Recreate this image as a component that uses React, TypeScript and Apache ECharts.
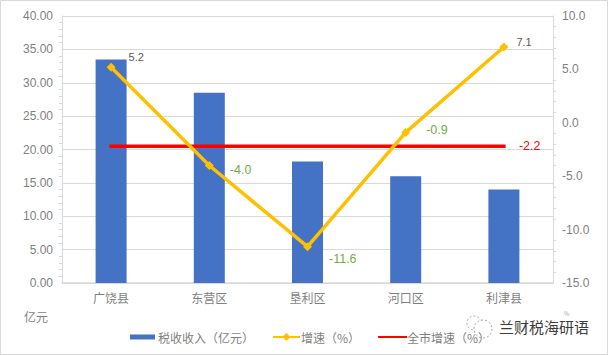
import React, { useEffect, useRef } from "react";
import * as echarts from "echarts";

const categories = ["广饶县", "东营区", "垦利区", "河口区", "利津县"];
const taxRevenue = [33.5, 28.5, 18.2, 16.0, 14.0];
const growth = [5.2, -4.0, -11.6, -0.9, 7.1];
const cityGrowth = [-2.2, -2.2, -2.2, -2.2, -2.2];
const growthLabelColors = ["#595959", "#70ad47", "#70ad47", "#70ad47", "#595959"];
const growthLabelSizes = [11, 12.5, 12.5, 12.5, 11];
const growthLabelOffsets = [
  [8, -10],
  [11, 4],
  [12, 12],
  [11, -2],
  [3, -5],
];

const FONT = "'Noto Sans CJK SC', sans-serif";
const LATIN = "'Liberation Sans', sans-serif";
const GREY = "#7f7f7f";
const LINE = "#d9d9d9";

export default function App() {
  const ref = useRef<HTMLDivElement>(null);
  useEffect(() => {
    document.body.style.margin = "0";
    const chart = echarts.init(ref.current!, undefined, { renderer: "svg" });
    chart.setOption({
      animation: false,
      textStyle: { fontFamily: FONT },
      grid: { left: 62, right: 55, top: 16, bottom: 72 },
      legend: {
        left: 130,
        top: 331,
        padding: 0,
        itemGap: 18,
        itemWidth: 27,
        itemHeight: 10,
        textStyle: { color: GREY, fontSize: 12, padding: [0, 0, 0, -4] },
        data: [
          { name: "税收收入（亿元）", icon: "path://M0 0L0 0M0 2.5H25V7.5H0ZM27 10L27 10" },
          { name: "增速（%）", textStyle: { width: 50, overflow: "none" } },
          { name: "全市增速（%）", itemStyle: { opacity: 0 } },
        ],
      },
      xAxis: {
        type: "category",
        data: categories,
        axisLine: { lineStyle: { color: LINE, width: 1.5 } },
        axisTick: { show: false },
        axisLabel: { color: GREY, fontSize: 12, margin: 8 },
      },
      yAxis: [
        {
          type: "value",
          min: 0,
          max: 40,
          interval: 5,
          axisLine: { show: true, lineStyle: { color: LINE } },
          axisTick: { show: false },
          minorTick: { show: true, splitNumber: 5, length: 3, lineStyle: { color: LINE } },
          axisLabel: {
            color: GREY,
            fontSize: 12,
            margin: 9,
            fontFamily: LATIN,
            formatter: (v: number) => v.toFixed(2),
          },
          splitLine: { show: true, lineStyle: { color: LINE, width: 1 } },
        },
        {
          type: "value",
          min: -15,
          max: 10,
          interval: 5,
          axisLine: { show: true, lineStyle: { color: LINE } },
          axisTick: { show: false },
          minorTick: { show: true, splitNumber: 5, length: 3, lineStyle: { color: LINE } },
          axisLabel: {
            color: GREY,
            fontSize: 12,
            margin: 9,
            fontFamily: LATIN,
            formatter: (v: number) => v.toFixed(1),
          },
          splitLine: { show: false },
        },
      ],
      series: [
        {
          name: "税收收入（亿元）",
          type: "bar",
          data: taxRevenue,
          barWidth: 31,
          itemStyle: { color: "#4472c4" },
        },
        {
          name: "增速（%）",
          type: "line",
          yAxisIndex: 1,
          data: growth.map((value, i) => ({
            value,
            label: {
              color: growthLabelColors[i],
              offset: growthLabelOffsets[i],
              fontSize: growthLabelSizes[i],
            },
          })),
          lineStyle: { color: "#ffc000", width: 3.5 },
          itemStyle: { color: "#ffc000" },
          symbol: "diamond",
          symbolSize: 9,
          label: {
            show: true,
            position: "right",
            distance: 5,
            fontSize: 12,
            fontFamily: LATIN,
            formatter: (p: any) => p.value.toFixed(1),
          },
          z: 3,
        },
        {
          name: "全市增速（%）",
          type: "line",
          yAxisIndex: 1,
          data: cityGrowth,
          lineStyle: { color: "#ff0000", width: 3.5, cap: "square" },
          itemStyle: { color: "#ff0000" },
          symbol: "none",
          endLabel: {
            show: true,
            distance: 15,
            color: "#ff0000",
            fontSize: 12.5,
            fontFamily: LATIN,
            formatter: (p: any) => Number(p.value).toFixed(1),
          },
          z: 2,
        },
      ],
      graphic: [
        {
          type: "rect",
          silent: true,
          shape: { x: 0.5, y: 0.5, width: 607, height: 354 },
          style: { fill: "none", stroke: "#d9d9d9", lineWidth: 1 },
        },
        {
          type: "text",
          x: 24,
          y: 310,
          style: { text: "亿元", fill: GREY, fontSize: 12, fontFamily: FONT },
        },
        {
          type: "text",
          x: 564,
          y: 310,
          style: { text: "%", fill: "#a6a6a6", fontSize: 6, fontFamily: FONT },
        },
        {
          type: "circle",
          silent: true,
          shape: { cx: 474, cy: 323, r: 7 },
          style: { fill: "#fff", stroke: "#8a8a8a", lineWidth: 0.8, lineDash: [2, 2] },
        },
        {
          type: "circle",
          silent: true,
          shape: { cx: 483, cy: 329, r: 9 },
          style: { fill: "#fff", stroke: "#8a8a8a", lineWidth: 0.8, lineDash: [2, 2] },
        },
        {
          type: "text",
          x: 499,
          y: 319,
          style: { text: "兰财税海研语", fill: "#3c3c3c", fontSize: 15, fontFamily: FONT },
        },
      ],
    });
    return () => chart.dispose();
  }, []);
  return (
    <div
      ref={ref}
      style={{ position: "absolute", left: 0, top: 0, width: 608, height: 355, background: "#fff" }}
    />
  );
}
